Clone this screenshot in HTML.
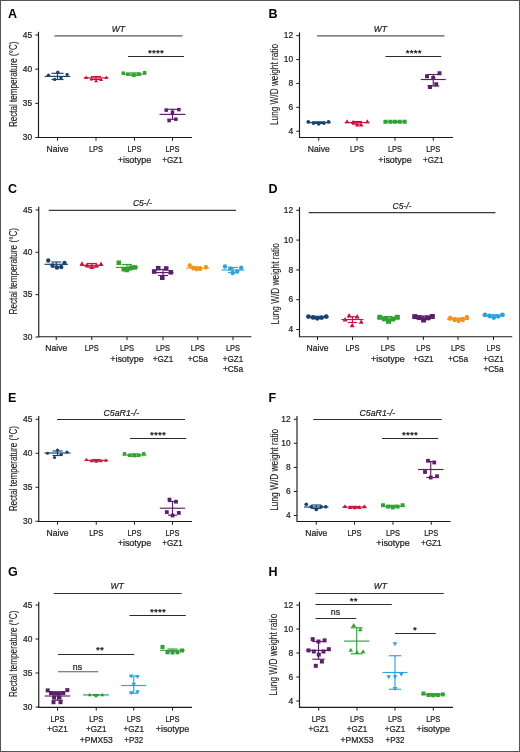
<!DOCTYPE html>
<html><head><meta charset="utf-8"><title>Figure</title>
<style>
html,body{margin:0;padding:0;background:#fff;}
body{width:520px;height:752px;overflow:hidden;}
svg{display:block;font-family:"Liberation Sans", sans-serif;will-change:transform;}
</style></head><body>
<svg width="520" height="752" viewBox="0 0 520 752">
<rect width="520" height="752" fill="#fff"/>
<rect x="0.5" y="0.5" width="519" height="751" fill="none" stroke="#555" stroke-width="1"/>
<text x="8" y="17.8" font-size="12.5" text-anchor="start" fill="#000" font-weight="bold">A</text>
<line x1="38.5" y1="31.804999999999996" x2="38.5" y2="138.0" stroke="#1a1a1a" stroke-width="1.15"/>
<line x1="35.3" y1="35.004999999999995" x2="38.5" y2="35.004999999999995" stroke="#1a1a1a" stroke-width="1.0"/>
<text x="32.2" y="37.705" font-size="8.4" text-anchor="end" fill="#222" stroke="#222" stroke-width="0.22" >45</text>
<line x1="35.3" y1="69.17" x2="38.5" y2="69.17" stroke="#1a1a1a" stroke-width="1.0"/>
<text x="32.2" y="71.87" font-size="8.4" text-anchor="end" fill="#222" stroke="#222" stroke-width="0.22" >40</text>
<line x1="35.3" y1="103.33500000000001" x2="38.5" y2="103.33500000000001" stroke="#1a1a1a" stroke-width="1.0"/>
<text x="32.2" y="106.03500000000001" font-size="8.4" text-anchor="end" fill="#222" stroke="#222" stroke-width="0.22" >35</text>
<line x1="35.3" y1="137.5" x2="38.5" y2="137.5" stroke="#1a1a1a" stroke-width="1.0"/>
<text x="32.2" y="140.2" font-size="8.4" text-anchor="end" fill="#222" stroke="#222" stroke-width="0.22" >30</text>
<text x="0" y="0" font-size="10.2" text-anchor="middle" fill="#222" stroke="#222" stroke-width="0.12" transform="translate(16.6,84.3) rotate(-90)" textLength="85.5" lengthAdjust="spacingAndGlyphs">Rectal temperature (°C)</text>
<line x1="38.5" y1="137.5" x2="192" y2="137.5" stroke="#1a1a1a" stroke-width="1.1"/>
<line x1="57.5" y1="137.5" x2="57.5" y2="140.7" stroke="#1a1a1a" stroke-width="1.0"/>
<text x="57.5" y="152.0" font-size="8.6" text-anchor="middle" fill="#222" stroke="#222" stroke-width="0.22" textLength="22" lengthAdjust="spacingAndGlyphs">Naive</text>
<line x1="96" y1="137.5" x2="96" y2="140.7" stroke="#1a1a1a" stroke-width="1.0"/>
<text x="96" y="152.0" font-size="8.6" text-anchor="middle" fill="#222" stroke="#222" stroke-width="0.22" textLength="14.1" lengthAdjust="spacingAndGlyphs">LPS</text>
<line x1="134.5" y1="137.5" x2="134.5" y2="140.7" stroke="#1a1a1a" stroke-width="1.0"/>
<text x="134.5" y="152.0" font-size="8.6" text-anchor="middle" fill="#222" stroke="#222" stroke-width="0.22" textLength="14.1" lengthAdjust="spacingAndGlyphs">LPS</text>
<text x="134.5" y="162.5" font-size="8.6" text-anchor="middle" fill="#222" stroke="#222" stroke-width="0.22" textLength="33.7" lengthAdjust="spacingAndGlyphs">+isotype</text>
<line x1="172.5" y1="137.5" x2="172.5" y2="140.7" stroke="#1a1a1a" stroke-width="1.0"/>
<text x="172.5" y="152.0" font-size="8.6" text-anchor="middle" fill="#222" stroke="#222" stroke-width="0.22" textLength="14.1" lengthAdjust="spacingAndGlyphs">LPS</text>
<text x="172.5" y="162.5" font-size="8.6" text-anchor="middle" fill="#222" stroke="#222" stroke-width="0.22" textLength="20.3" lengthAdjust="spacingAndGlyphs">+GZ1</text>
<line x1="54.4" y1="35.8" x2="182.5" y2="35.8" stroke="#5a5a5a" stroke-width="1.3"/>
<text x="118.3" y="31.6" font-size="8.5" text-anchor="middle" fill="#222" stroke="#222" stroke-width="0.22" font-style="italic">WT</text>
<line x1="128" y1="56.5" x2="184" y2="56.5" stroke="#2a2a2a" stroke-width="1.0"/>
<text x="149.80" y="56.00" font-size="9.8" text-anchor="middle" fill="#111" stroke="#111" stroke-width="0.25">*</text>
<text x="153.80" y="56.00" font-size="9.8" text-anchor="middle" fill="#111" stroke="#111" stroke-width="0.25">*</text>
<text x="157.80" y="56.00" font-size="9.8" text-anchor="middle" fill="#111" stroke="#111" stroke-width="0.25">*</text>
<text x="161.80" y="56.00" font-size="9.8" text-anchor="middle" fill="#111" stroke="#111" stroke-width="0.25">*</text>
<line x1="44.7" y1="76.4" x2="70.3" y2="76.4" stroke="#17436f" stroke-width="1.15"/>
<line x1="57.5" y1="73.3" x2="57.5" y2="79.5" stroke="#17436f" stroke-width="1.15"/>
<line x1="51.5" y1="73.3" x2="63.5" y2="73.3" stroke="#17436f" stroke-width="1.15"/>
<line x1="51.5" y1="79.5" x2="63.5" y2="79.5" stroke="#17436f" stroke-width="1.15"/>
<circle cx="48.5" cy="75.2" r="1.66" fill="#17436f"/>
<circle cx="57.8" cy="72.2" r="1.66" fill="#17436f"/>
<circle cx="67.1" cy="74.5" r="1.66" fill="#17436f"/>
<circle cx="54.7" cy="79.4" r="1.66" fill="#17436f"/>
<circle cx="61" cy="77.8" r="1.66" fill="#17436f"/>
<line x1="83.6" y1="77.9" x2="108.4" y2="77.9" stroke="#c8143c" stroke-width="1.15"/>
<line x1="96" y1="76.6" x2="96" y2="79.4" stroke="#c8143c" stroke-width="1.15"/>
<line x1="91" y1="76.6" x2="101" y2="76.6" stroke="#c8143c" stroke-width="1.15"/>
<line x1="91" y1="79.4" x2="101" y2="79.4" stroke="#c8143c" stroke-width="1.15"/>
<path d="M86.20 75.48L88.21 78.98L84.19 78.98Z" fill="#c8143c"/>
<path d="M91.40 77.08L93.41 80.58L89.39 80.58Z" fill="#c8143c"/>
<path d="M96.10 78.67L98.11 82.17L94.09 82.17Z" fill="#c8143c"/>
<path d="M101.00 77.38L103.01 80.88L98.99 80.88Z" fill="#c8143c"/>
<path d="M106.30 75.58L108.31 79.08L104.29 79.08Z" fill="#c8143c"/>
<line x1="122.5" y1="74.1" x2="146.5" y2="74.1" stroke="#32a034" stroke-width="1.15"/>
<line x1="134.5" y1="72.9" x2="134.5" y2="75.3" stroke="#32a034" stroke-width="1.15"/>
<line x1="129.5" y1="72.9" x2="139.5" y2="72.9" stroke="#32a034" stroke-width="1.15"/>
<line x1="129.5" y1="75.3" x2="139.5" y2="75.3" stroke="#32a034" stroke-width="1.15"/>
<rect x="121.55" y="71.45" width="3.5" height="3.5" fill="#32a034"/>
<rect x="126.05" y="72.35" width="3.5" height="3.5" fill="#32a034"/>
<rect x="132.05" y="73.65" width="3.5" height="3.5" fill="#32a034"/>
<rect x="137.45" y="72.35" width="3.5" height="3.5" fill="#32a034"/>
<rect x="142.85" y="70.95" width="3.5" height="3.5" fill="#32a034"/>
<line x1="159.5" y1="114.4" x2="185.5" y2="114.4" stroke="#5b2069" stroke-width="1.15"/>
<line x1="172.5" y1="109.3" x2="172.5" y2="119.3" stroke="#5b2069" stroke-width="1.15"/>
<line x1="167.5" y1="109.3" x2="177.5" y2="109.3" stroke="#5b2069" stroke-width="1.15"/>
<line x1="167.5" y1="119.3" x2="177.5" y2="119.3" stroke="#5b2069" stroke-width="1.15"/>
<rect x="164.45" y="108.35" width="3.5" height="3.5" fill="#5b2069"/>
<rect x="177.15" y="107.85" width="3.5" height="3.5" fill="#5b2069"/>
<rect x="170.75" y="110.55" width="3.5" height="3.5" fill="#5b2069"/>
<rect x="167.35" y="118.85" width="3.5" height="3.5" fill="#5b2069"/>
<rect x="174.05" y="117.45" width="3.5" height="3.5" fill="#5b2069"/>
<text x="268.6" y="17.8" font-size="12.5" text-anchor="start" fill="#000" font-weight="bold">B</text>
<line x1="299.5" y1="32.45" x2="299.5" y2="138.0" stroke="#1a1a1a" stroke-width="1.15"/>
<line x1="296.3" y1="35.650000000000006" x2="299.5" y2="35.650000000000006" stroke="#1a1a1a" stroke-width="1.0"/>
<text x="293.2" y="38.35000000000001" font-size="8.4" text-anchor="end" fill="#222" stroke="#222" stroke-width="0.22" >12</text>
<line x1="296.3" y1="59.55000000000001" x2="299.5" y2="59.55000000000001" stroke="#1a1a1a" stroke-width="1.0"/>
<text x="293.2" y="62.250000000000014" font-size="8.4" text-anchor="end" fill="#222" stroke="#222" stroke-width="0.22" >10</text>
<line x1="296.3" y1="83.45" x2="299.5" y2="83.45" stroke="#1a1a1a" stroke-width="1.0"/>
<text x="293.2" y="86.15" font-size="8.4" text-anchor="end" fill="#222" stroke="#222" stroke-width="0.22" >8</text>
<line x1="296.3" y1="107.35" x2="299.5" y2="107.35" stroke="#1a1a1a" stroke-width="1.0"/>
<text x="293.2" y="110.05" font-size="8.4" text-anchor="end" fill="#222" stroke="#222" stroke-width="0.22" >6</text>
<line x1="296.3" y1="131.25" x2="299.5" y2="131.25" stroke="#1a1a1a" stroke-width="1.0"/>
<text x="293.2" y="133.95" font-size="8.4" text-anchor="end" fill="#222" stroke="#222" stroke-width="0.22" >4</text>
<text x="0" y="0" font-size="10.2" text-anchor="middle" fill="#222" stroke="#222" stroke-width="0.12" transform="translate(277.5,84.5) rotate(-90)" textLength="81" lengthAdjust="spacingAndGlyphs">Lung W/D weight ratio</text>
<line x1="299.5" y1="137.5" x2="453" y2="137.5" stroke="#1a1a1a" stroke-width="1.1"/>
<line x1="318.75" y1="137.5" x2="318.75" y2="140.7" stroke="#1a1a1a" stroke-width="1.0"/>
<text x="318.75" y="152.0" font-size="8.6" text-anchor="middle" fill="#222" stroke="#222" stroke-width="0.22" textLength="22" lengthAdjust="spacingAndGlyphs">Naive</text>
<line x1="357" y1="137.5" x2="357" y2="140.7" stroke="#1a1a1a" stroke-width="1.0"/>
<text x="357" y="152.0" font-size="8.6" text-anchor="middle" fill="#222" stroke="#222" stroke-width="0.22" textLength="14.1" lengthAdjust="spacingAndGlyphs">LPS</text>
<line x1="395" y1="137.5" x2="395" y2="140.7" stroke="#1a1a1a" stroke-width="1.0"/>
<text x="395" y="152.0" font-size="8.6" text-anchor="middle" fill="#222" stroke="#222" stroke-width="0.22" textLength="14.1" lengthAdjust="spacingAndGlyphs">LPS</text>
<text x="395" y="162.5" font-size="8.6" text-anchor="middle" fill="#222" stroke="#222" stroke-width="0.22" textLength="33.7" lengthAdjust="spacingAndGlyphs">+isotype</text>
<line x1="433.25" y1="137.5" x2="433.25" y2="140.7" stroke="#1a1a1a" stroke-width="1.0"/>
<text x="433.25" y="152.0" font-size="8.6" text-anchor="middle" fill="#222" stroke="#222" stroke-width="0.22" textLength="14.1" lengthAdjust="spacingAndGlyphs">LPS</text>
<text x="433.25" y="162.5" font-size="8.6" text-anchor="middle" fill="#222" stroke="#222" stroke-width="0.22" textLength="20.3" lengthAdjust="spacingAndGlyphs">+GZ1</text>
<line x1="317" y1="35.8" x2="444.5" y2="35.8" stroke="#5a5a5a" stroke-width="1.3"/>
<text x="380.4" y="31.6" font-size="8.5" text-anchor="middle" fill="#222" stroke="#222" stroke-width="0.22" font-style="italic">WT</text>
<line x1="385.5" y1="56.5" x2="441.25" y2="56.5" stroke="#2a2a2a" stroke-width="1.0"/>
<text x="407.70" y="56.00" font-size="9.8" text-anchor="middle" fill="#111" stroke="#111" stroke-width="0.25">*</text>
<text x="411.70" y="56.00" font-size="9.8" text-anchor="middle" fill="#111" stroke="#111" stroke-width="0.25">*</text>
<text x="415.70" y="56.00" font-size="9.8" text-anchor="middle" fill="#111" stroke="#111" stroke-width="0.25">*</text>
<text x="419.70" y="56.00" font-size="9.8" text-anchor="middle" fill="#111" stroke="#111" stroke-width="0.25">*</text>
<line x1="306.75" y1="122.6" x2="330.75" y2="122.6" stroke="#17436f" stroke-width="1.15"/>
<line x1="318.75" y1="121.8" x2="318.75" y2="123.4" stroke="#17436f" stroke-width="1.15"/>
<line x1="314.75" y1="121.8" x2="322.75" y2="121.8" stroke="#17436f" stroke-width="1.15"/>
<line x1="314.75" y1="123.4" x2="322.75" y2="123.4" stroke="#17436f" stroke-width="1.15"/>
<circle cx="308.3" cy="121.8" r="1.90" fill="#17436f"/>
<circle cx="313.5" cy="123.0" r="1.90" fill="#17436f"/>
<circle cx="318.7" cy="123.8" r="1.90" fill="#17436f"/>
<circle cx="323.9" cy="123.0" r="1.90" fill="#17436f"/>
<circle cx="328.5" cy="121.8" r="1.90" fill="#17436f"/>
<line x1="344.6" y1="122.6" x2="369.4" y2="122.6" stroke="#c8143c" stroke-width="1.15"/>
<line x1="357" y1="121.5" x2="357" y2="124.2" stroke="#c8143c" stroke-width="1.15"/>
<line x1="352" y1="121.5" x2="362" y2="121.5" stroke="#c8143c" stroke-width="1.15"/>
<line x1="352" y1="124.2" x2="362" y2="124.2" stroke="#c8143c" stroke-width="1.15"/>
<path d="M347.10 119.20L349.40 123.20L344.80 123.20Z" fill="#c8143c"/>
<path d="M353.10 119.90L355.40 123.90L350.80 123.90Z" fill="#c8143c"/>
<path d="M357.20 122.60L359.50 126.60L354.90 126.60Z" fill="#c8143c"/>
<path d="M361.20 122.60L363.50 126.60L358.90 126.60Z" fill="#c8143c"/>
<path d="M367.30 119.20L369.60 123.20L365.00 123.20Z" fill="#c8143c"/>
<line x1="383.5" y1="121.75" x2="406.5" y2="121.75" stroke="#32a034" stroke-width="1.15"/>
<line x1="395" y1="121.3" x2="395" y2="122.2" stroke="#32a034" stroke-width="1.15"/>
<line x1="391" y1="121.3" x2="399" y2="121.3" stroke="#32a034" stroke-width="1.15"/>
<line x1="391" y1="122.2" x2="399" y2="122.2" stroke="#32a034" stroke-width="1.15"/>
<rect x="383.50" y="119.75" width="4.0" height="4.0" fill="#32a034"/>
<rect x="388.30" y="119.75" width="4.0" height="4.0" fill="#32a034"/>
<rect x="393.00" y="119.75" width="4.0" height="4.0" fill="#32a034"/>
<rect x="397.80" y="119.75" width="4.0" height="4.0" fill="#32a034"/>
<rect x="402.60" y="119.75" width="4.0" height="4.0" fill="#32a034"/>
<line x1="420.75" y1="79.5" x2="445.75" y2="79.5" stroke="#5b2069" stroke-width="1.15"/>
<line x1="433.25" y1="74.5" x2="433.25" y2="86" stroke="#5b2069" stroke-width="1.15"/>
<line x1="427.25" y1="74.5" x2="439.25" y2="74.5" stroke="#5b2069" stroke-width="1.15"/>
<line x1="427.25" y1="86" x2="439.25" y2="86" stroke="#5b2069" stroke-width="1.15"/>
<rect x="425.00" y="74.25" width="4.0" height="4.0" fill="#5b2069"/>
<rect x="437.50" y="71.25" width="4.0" height="4.0" fill="#5b2069"/>
<rect x="431.25" y="76.00" width="4.0" height="4.0" fill="#5b2069"/>
<rect x="428.00" y="85.00" width="4.0" height="4.0" fill="#5b2069"/>
<rect x="434.25" y="82.25" width="4.0" height="4.0" fill="#5b2069"/>
<text x="8" y="192.6" font-size="12.5" text-anchor="start" fill="#000" font-weight="bold">C</text>
<line x1="38.75" y1="206.75" x2="38.75" y2="337.3" stroke="#1a1a1a" stroke-width="1.15"/>
<line x1="35.55" y1="209.95" x2="38.75" y2="209.95" stroke="#1a1a1a" stroke-width="1.0"/>
<text x="32.45" y="212.64999999999998" font-size="8.4" text-anchor="end" fill="#222" stroke="#222" stroke-width="0.22" >45</text>
<line x1="35.55" y1="252.3" x2="38.75" y2="252.3" stroke="#1a1a1a" stroke-width="1.0"/>
<text x="32.45" y="255.0" font-size="8.4" text-anchor="end" fill="#222" stroke="#222" stroke-width="0.22" >40</text>
<line x1="35.55" y1="294.65" x2="38.75" y2="294.65" stroke="#1a1a1a" stroke-width="1.0"/>
<text x="32.45" y="297.34999999999997" font-size="8.4" text-anchor="end" fill="#222" stroke="#222" stroke-width="0.22" >35</text>
<line x1="35.55" y1="337.0" x2="38.75" y2="337.0" stroke="#1a1a1a" stroke-width="1.0"/>
<text x="32.45" y="339.7" font-size="8.4" text-anchor="end" fill="#222" stroke="#222" stroke-width="0.22" >30</text>
<text x="0" y="0" font-size="10.2" text-anchor="middle" fill="#222" stroke="#222" stroke-width="0.12" transform="translate(16.6,271.2) rotate(-90)" textLength="86.5" lengthAdjust="spacingAndGlyphs">Rectal temperature (°C)</text>
<line x1="38.75" y1="336.8" x2="251.4" y2="336.8" stroke="#1a1a1a" stroke-width="1.1"/>
<line x1="56.25" y1="336.8" x2="56.25" y2="340.0" stroke="#1a1a1a" stroke-width="1.0"/>
<text x="56.25" y="351.40000000000003" font-size="8.6" text-anchor="middle" fill="#222" stroke="#222" stroke-width="0.22" textLength="22" lengthAdjust="spacingAndGlyphs">Naive</text>
<line x1="91.75" y1="336.8" x2="91.75" y2="340.0" stroke="#1a1a1a" stroke-width="1.0"/>
<text x="91.75" y="351.40000000000003" font-size="8.6" text-anchor="middle" fill="#222" stroke="#222" stroke-width="0.22" textLength="14.1" lengthAdjust="spacingAndGlyphs">LPS</text>
<line x1="127" y1="336.8" x2="127" y2="340.0" stroke="#1a1a1a" stroke-width="1.0"/>
<text x="127" y="351.40000000000003" font-size="8.6" text-anchor="middle" fill="#222" stroke="#222" stroke-width="0.22" textLength="14.1" lengthAdjust="spacingAndGlyphs">LPS</text>
<text x="127" y="361.90000000000003" font-size="8.6" text-anchor="middle" fill="#222" stroke="#222" stroke-width="0.22" textLength="33.7" lengthAdjust="spacingAndGlyphs">+isotype</text>
<line x1="163" y1="336.8" x2="163" y2="340.0" stroke="#1a1a1a" stroke-width="1.0"/>
<text x="163" y="351.40000000000003" font-size="8.6" text-anchor="middle" fill="#222" stroke="#222" stroke-width="0.22" textLength="14.1" lengthAdjust="spacingAndGlyphs">LPS</text>
<text x="163" y="361.90000000000003" font-size="8.6" text-anchor="middle" fill="#222" stroke="#222" stroke-width="0.22" textLength="20.3" lengthAdjust="spacingAndGlyphs">+GZ1</text>
<line x1="197.8" y1="336.8" x2="197.8" y2="340.0" stroke="#1a1a1a" stroke-width="1.0"/>
<text x="197.8" y="351.40000000000003" font-size="8.6" text-anchor="middle" fill="#222" stroke="#222" stroke-width="0.22" textLength="14.1" lengthAdjust="spacingAndGlyphs">LPS</text>
<text x="197.8" y="361.90000000000003" font-size="8.6" text-anchor="middle" fill="#222" stroke="#222" stroke-width="0.22" textLength="20.2" lengthAdjust="spacingAndGlyphs">+C5a</text>
<line x1="233" y1="336.8" x2="233" y2="340.0" stroke="#1a1a1a" stroke-width="1.0"/>
<text x="233" y="351.40000000000003" font-size="8.6" text-anchor="middle" fill="#222" stroke="#222" stroke-width="0.22" textLength="14.1" lengthAdjust="spacingAndGlyphs">LPS</text>
<text x="233" y="361.90000000000003" font-size="8.6" text-anchor="middle" fill="#222" stroke="#222" stroke-width="0.22" textLength="20.3" lengthAdjust="spacingAndGlyphs">+GZ1</text>
<text x="233" y="372.40000000000003" font-size="8.6" text-anchor="middle" fill="#222" stroke="#222" stroke-width="0.22" textLength="20.2" lengthAdjust="spacingAndGlyphs">+C5a</text>
<line x1="48.75" y1="210.4" x2="236" y2="210.4" stroke="#3a3a3a" stroke-width="1.2"/>
<text x="142.4" y="206" font-size="8.5" text-anchor="middle" fill="#222" stroke="#222" stroke-width="0.22" font-style="italic">C5-/-</text>
<line x1="44.45" y1="264.3" x2="68.05" y2="264.3" stroke="#17436f" stroke-width="1.15"/>
<line x1="56.25" y1="262" x2="56.25" y2="267" stroke="#17436f" stroke-width="1.15"/>
<line x1="51.25" y1="262" x2="61.25" y2="262" stroke="#17436f" stroke-width="1.15"/>
<line x1="51.25" y1="267" x2="61.25" y2="267" stroke="#17436f" stroke-width="1.15"/>
<circle cx="48.25" cy="260.5" r="2.18" fill="#17436f"/>
<circle cx="52.5" cy="265.5" r="2.18" fill="#17436f"/>
<circle cx="57" cy="267.5" r="2.18" fill="#17436f"/>
<circle cx="61.25" cy="267" r="2.18" fill="#17436f"/>
<circle cx="64.5" cy="263" r="2.18" fill="#17436f"/>
<line x1="80.75" y1="265.3" x2="102.75" y2="265.3" stroke="#c8143c" stroke-width="1.15"/>
<line x1="91.75" y1="263.5" x2="91.75" y2="267" stroke="#c8143c" stroke-width="1.15"/>
<line x1="86.75" y1="263.5" x2="96.75" y2="263.5" stroke="#c8143c" stroke-width="1.15"/>
<line x1="86.75" y1="267" x2="96.75" y2="267" stroke="#c8143c" stroke-width="1.15"/>
<path d="M82.00 261.27L84.64 265.87L79.36 265.87Z" fill="#c8143c"/>
<path d="M87.00 262.77L89.64 267.37L84.36 267.37Z" fill="#c8143c"/>
<path d="M91.80 264.47L94.44 269.07L89.16 269.07Z" fill="#c8143c"/>
<path d="M96.50 262.97L99.14 267.57L93.86 267.57Z" fill="#c8143c"/>
<path d="M101.00 261.47L103.64 266.07L98.36 266.07Z" fill="#c8143c"/>
<line x1="115.8" y1="267.4" x2="138.2" y2="267.4" stroke="#32a034" stroke-width="1.15"/>
<line x1="127" y1="264.5" x2="127" y2="270" stroke="#32a034" stroke-width="1.15"/>
<line x1="122" y1="264.5" x2="132" y2="264.5" stroke="#32a034" stroke-width="1.15"/>
<line x1="122" y1="270" x2="132" y2="270" stroke="#32a034" stroke-width="1.15"/>
<rect x="116.50" y="260.50" width="4.6" height="4.6" fill="#32a034"/>
<rect x="121.50" y="266.90" width="4.6" height="4.6" fill="#32a034"/>
<rect x="124.60" y="267.70" width="4.6" height="4.6" fill="#32a034"/>
<rect x="128.50" y="265.40" width="4.6" height="4.6" fill="#32a034"/>
<rect x="132.70" y="265.10" width="4.6" height="4.6" fill="#32a034"/>
<line x1="152.5" y1="272.6" x2="173.5" y2="272.6" stroke="#5b2069" stroke-width="1.15"/>
<line x1="163" y1="269.5" x2="163" y2="275.5" stroke="#5b2069" stroke-width="1.15"/>
<line x1="158" y1="269.5" x2="168" y2="269.5" stroke="#5b2069" stroke-width="1.15"/>
<line x1="158" y1="275.5" x2="168" y2="275.5" stroke="#5b2069" stroke-width="1.15"/>
<rect x="151.90" y="269.20" width="4.6" height="4.6" fill="#5b2069"/>
<rect x="155.90" y="265.90" width="4.6" height="4.6" fill="#5b2069"/>
<rect x="163.90" y="266.20" width="4.6" height="4.6" fill="#5b2069"/>
<rect x="168.50" y="270.00" width="4.6" height="4.6" fill="#5b2069"/>
<rect x="160.00" y="275.40" width="4.6" height="4.6" fill="#5b2069"/>
<line x1="186.3" y1="268.1" x2="209.3" y2="268.1" stroke="#f3931f" stroke-width="1.15"/>
<line x1="197.8" y1="266.8" x2="197.8" y2="269.4" stroke="#f3931f" stroke-width="1.15"/>
<line x1="193.8" y1="266.8" x2="201.8" y2="266.8" stroke="#f3931f" stroke-width="1.15"/>
<line x1="193.8" y1="269.4" x2="201.8" y2="269.4" stroke="#f3931f" stroke-width="1.15"/>
<path d="M187.50 265.50L188.65 263.20L190.95 263.20L192.10 265.50L190.95 267.80L188.65 267.80Z" fill="#f3931f"/>
<path d="M190.90 268.10L192.05 265.80L194.35 265.80L195.50 268.10L194.35 270.40L192.05 270.40Z" fill="#f3931f"/>
<path d="M194.40 268.90L195.55 266.60L197.85 266.60L199.00 268.90L197.85 271.20L195.55 271.20Z" fill="#f3931f"/>
<path d="M197.90 268.70L199.05 266.40L201.35 266.40L202.50 268.70L201.35 271.00L199.05 271.00Z" fill="#f3931f"/>
<path d="M203.60 267.20L204.75 264.90L207.05 264.90L208.20 267.20L207.05 269.50L204.75 269.50Z" fill="#f3931f"/>
<line x1="221.5" y1="270" x2="244.5" y2="270" stroke="#2ba3db" stroke-width="1.15"/>
<line x1="233" y1="267.5" x2="233" y2="272.5" stroke="#2ba3db" stroke-width="1.15"/>
<line x1="228" y1="267.5" x2="238" y2="267.5" stroke="#2ba3db" stroke-width="1.15"/>
<line x1="228" y1="272.5" x2="238" y2="272.5" stroke="#2ba3db" stroke-width="1.15"/>
<circle cx="225" cy="266.5" r="2.18" fill="#2ba3db"/>
<circle cx="230.4" cy="268.5" r="2.18" fill="#2ba3db"/>
<circle cx="241.2" cy="267.7" r="2.18" fill="#2ba3db"/>
<circle cx="232.7" cy="273" r="2.18" fill="#2ba3db"/>
<circle cx="237.3" cy="271.5" r="2.18" fill="#2ba3db"/>
<text x="268.6" y="192.6" font-size="12.5" text-anchor="start" fill="#000" font-weight="bold">D</text>
<line x1="299.5" y1="207.10000000000002" x2="299.5" y2="337.25" stroke="#1a1a1a" stroke-width="1.15"/>
<line x1="296.3" y1="210.3" x2="299.5" y2="210.3" stroke="#1a1a1a" stroke-width="1.0"/>
<text x="293.2" y="213.0" font-size="8.4" text-anchor="end" fill="#222" stroke="#222" stroke-width="0.22" >12</text>
<line x1="296.3" y1="240.1" x2="299.5" y2="240.1" stroke="#1a1a1a" stroke-width="1.0"/>
<text x="293.2" y="242.79999999999998" font-size="8.4" text-anchor="end" fill="#222" stroke="#222" stroke-width="0.22" >10</text>
<line x1="296.3" y1="269.9" x2="299.5" y2="269.9" stroke="#1a1a1a" stroke-width="1.0"/>
<text x="293.2" y="272.59999999999997" font-size="8.4" text-anchor="end" fill="#222" stroke="#222" stroke-width="0.22" >8</text>
<line x1="296.3" y1="299.7" x2="299.5" y2="299.7" stroke="#1a1a1a" stroke-width="1.0"/>
<text x="293.2" y="302.4" font-size="8.4" text-anchor="end" fill="#222" stroke="#222" stroke-width="0.22" >6</text>
<line x1="296.3" y1="329.5" x2="299.5" y2="329.5" stroke="#1a1a1a" stroke-width="1.0"/>
<text x="293.2" y="332.2" font-size="8.4" text-anchor="end" fill="#222" stroke="#222" stroke-width="0.22" >4</text>
<text x="0" y="0" font-size="10.2" text-anchor="middle" fill="#222" stroke="#222" stroke-width="0.12" transform="translate(278.6,283.8) rotate(-90)" textLength="81.2" lengthAdjust="spacingAndGlyphs">Lung W/D weight ratio</text>
<line x1="299.5" y1="336.75" x2="512.2" y2="336.75" stroke="#1a1a1a" stroke-width="1.1"/>
<line x1="317.5" y1="336.75" x2="317.5" y2="339.95" stroke="#1a1a1a" stroke-width="1.0"/>
<text x="317.5" y="351.40000000000003" font-size="8.6" text-anchor="middle" fill="#222" stroke="#222" stroke-width="0.22" textLength="22" lengthAdjust="spacingAndGlyphs">Naive</text>
<line x1="352.5" y1="336.75" x2="352.5" y2="339.95" stroke="#1a1a1a" stroke-width="1.0"/>
<text x="352.5" y="351.40000000000003" font-size="8.6" text-anchor="middle" fill="#222" stroke="#222" stroke-width="0.22" textLength="14.1" lengthAdjust="spacingAndGlyphs">LPS</text>
<line x1="387.9" y1="336.75" x2="387.9" y2="339.95" stroke="#1a1a1a" stroke-width="1.0"/>
<text x="387.9" y="351.40000000000003" font-size="8.6" text-anchor="middle" fill="#222" stroke="#222" stroke-width="0.22" textLength="14.1" lengthAdjust="spacingAndGlyphs">LPS</text>
<text x="387.9" y="361.90000000000003" font-size="8.6" text-anchor="middle" fill="#222" stroke="#222" stroke-width="0.22" textLength="33.7" lengthAdjust="spacingAndGlyphs">+isotype</text>
<line x1="423.4" y1="336.75" x2="423.4" y2="339.95" stroke="#1a1a1a" stroke-width="1.0"/>
<text x="423.4" y="351.40000000000003" font-size="8.6" text-anchor="middle" fill="#222" stroke="#222" stroke-width="0.22" textLength="14.1" lengthAdjust="spacingAndGlyphs">LPS</text>
<text x="423.4" y="361.90000000000003" font-size="8.6" text-anchor="middle" fill="#222" stroke="#222" stroke-width="0.22" textLength="20.3" lengthAdjust="spacingAndGlyphs">+GZ1</text>
<line x1="458" y1="336.75" x2="458" y2="339.95" stroke="#1a1a1a" stroke-width="1.0"/>
<text x="458" y="351.40000000000003" font-size="8.6" text-anchor="middle" fill="#222" stroke="#222" stroke-width="0.22" textLength="14.1" lengthAdjust="spacingAndGlyphs">LPS</text>
<text x="458" y="361.90000000000003" font-size="8.6" text-anchor="middle" fill="#222" stroke="#222" stroke-width="0.22" textLength="20.2" lengthAdjust="spacingAndGlyphs">+C5a</text>
<line x1="493.5" y1="336.75" x2="493.5" y2="339.95" stroke="#1a1a1a" stroke-width="1.0"/>
<text x="493.5" y="351.40000000000003" font-size="8.6" text-anchor="middle" fill="#222" stroke="#222" stroke-width="0.22" textLength="14.1" lengthAdjust="spacingAndGlyphs">LPS</text>
<text x="493.5" y="361.90000000000003" font-size="8.6" text-anchor="middle" fill="#222" stroke="#222" stroke-width="0.22" textLength="20.3" lengthAdjust="spacingAndGlyphs">+GZ1</text>
<text x="493.5" y="372.40000000000003" font-size="8.6" text-anchor="middle" fill="#222" stroke="#222" stroke-width="0.22" textLength="20.2" lengthAdjust="spacingAndGlyphs">+C5a</text>
<line x1="308.75" y1="212.6" x2="495.5" y2="212.6" stroke="#3a3a3a" stroke-width="1.2"/>
<text x="402" y="208.6" font-size="8.5" text-anchor="middle" fill="#222" stroke="#222" stroke-width="0.22" font-style="italic">C5-/-</text>
<line x1="306.5" y1="317.4" x2="328.5" y2="317.4" stroke="#17436f" stroke-width="1.15"/>
<line x1="317.5" y1="316.3" x2="317.5" y2="318.6" stroke="#17436f" stroke-width="1.15"/>
<line x1="313.5" y1="316.3" x2="321.5" y2="316.3" stroke="#17436f" stroke-width="1.15"/>
<line x1="313.5" y1="318.6" x2="321.5" y2="318.6" stroke="#17436f" stroke-width="1.15"/>
<circle cx="308.5" cy="316.6" r="2.38" fill="#17436f"/>
<circle cx="313" cy="317.4" r="2.38" fill="#17436f"/>
<circle cx="317.3" cy="318.3" r="2.38" fill="#17436f"/>
<circle cx="321.7" cy="317.6" r="2.38" fill="#17436f"/>
<circle cx="326.2" cy="316.6" r="2.38" fill="#17436f"/>
<line x1="341.5" y1="319.5" x2="363.5" y2="319.5" stroke="#c8143c" stroke-width="1.15"/>
<line x1="352.5" y1="316.7" x2="352.5" y2="322.5" stroke="#c8143c" stroke-width="1.15"/>
<line x1="347.8" y1="316.7" x2="357.2" y2="316.7" stroke="#c8143c" stroke-width="1.15"/>
<line x1="347.8" y1="322.5" x2="357.2" y2="322.5" stroke="#c8143c" stroke-width="1.15"/>
<path d="M349.10 313.08L351.63 317.48L346.57 317.48Z" fill="#c8143c"/>
<path d="M357.20 313.98L359.73 318.38L354.67 318.38Z" fill="#c8143c"/>
<path d="M345.10 317.08L347.63 321.48L342.57 321.48Z" fill="#c8143c"/>
<path d="M361.20 319.38L363.73 323.78L358.67 323.78Z" fill="#c8143c"/>
<path d="M352.20 322.78L354.73 327.18L349.67 327.18Z" fill="#c8143c"/>
<line x1="376.9" y1="318" x2="398.9" y2="318" stroke="#32a034" stroke-width="1.15"/>
<line x1="387.9" y1="316.5" x2="387.9" y2="319.5" stroke="#32a034" stroke-width="1.15"/>
<line x1="383.9" y1="316.5" x2="391.9" y2="316.5" stroke="#32a034" stroke-width="1.15"/>
<line x1="383.9" y1="319.5" x2="391.9" y2="319.5" stroke="#32a034" stroke-width="1.15"/>
<rect x="377.30" y="314.80" width="5.0" height="5.0" fill="#32a034"/>
<rect x="382.00" y="316.30" width="5.0" height="5.0" fill="#32a034"/>
<rect x="386.00" y="318.80" width="5.0" height="5.0" fill="#32a034"/>
<rect x="390.30" y="316.50" width="5.0" height="5.0" fill="#32a034"/>
<rect x="394.80" y="314.80" width="5.0" height="5.0" fill="#32a034"/>
<line x1="412.4" y1="317.2" x2="434.4" y2="317.2" stroke="#5b2069" stroke-width="1.15"/>
<line x1="423.4" y1="316" x2="423.4" y2="318.6" stroke="#5b2069" stroke-width="1.15"/>
<line x1="419.4" y1="316" x2="427.4" y2="316" stroke="#5b2069" stroke-width="1.15"/>
<line x1="419.4" y1="318.6" x2="427.4" y2="318.6" stroke="#5b2069" stroke-width="1.15"/>
<rect x="412.30" y="314.10" width="5.0" height="5.0" fill="#5b2069"/>
<rect x="416.70" y="315.10" width="5.0" height="5.0" fill="#5b2069"/>
<rect x="421.10" y="317.50" width="5.0" height="5.0" fill="#5b2069"/>
<rect x="425.50" y="315.30" width="5.0" height="5.0" fill="#5b2069"/>
<rect x="429.80" y="314.00" width="5.0" height="5.0" fill="#5b2069"/>
<line x1="447" y1="319.2" x2="469" y2="319.2" stroke="#f3931f" stroke-width="1.15"/>
<line x1="458" y1="318" x2="458" y2="320.5" stroke="#f3931f" stroke-width="1.15"/>
<line x1="454" y1="318" x2="462" y2="318" stroke="#f3931f" stroke-width="1.15"/>
<line x1="454" y1="320.5" x2="462" y2="320.5" stroke="#f3931f" stroke-width="1.15"/>
<path d="M447.70 318.20L448.95 315.70L451.45 315.70L452.70 318.20L451.45 320.70L448.95 320.70Z" fill="#f3931f"/>
<path d="M452.00 319.40L453.25 316.90L455.75 316.90L457.00 319.40L455.75 321.90L453.25 321.90Z" fill="#f3931f"/>
<path d="M456.10 320.60L457.35 318.10L459.85 318.10L461.10 320.60L459.85 323.10L457.35 323.10Z" fill="#f3931f"/>
<path d="M460.30 319.40L461.55 316.90L464.05 316.90L465.30 319.40L464.05 321.90L461.55 321.90Z" fill="#f3931f"/>
<path d="M464.30 317.60L465.55 315.10L468.05 315.10L469.30 317.60L468.05 320.10L465.55 320.10Z" fill="#f3931f"/>
<line x1="482.5" y1="315.8" x2="504.5" y2="315.8" stroke="#2ba3db" stroke-width="1.15"/>
<line x1="493.5" y1="314.7" x2="493.5" y2="317" stroke="#2ba3db" stroke-width="1.15"/>
<line x1="489.5" y1="314.7" x2="497.5" y2="314.7" stroke="#2ba3db" stroke-width="1.15"/>
<line x1="489.5" y1="317" x2="497.5" y2="317" stroke="#2ba3db" stroke-width="1.15"/>
<circle cx="485" cy="314.8" r="2.38" fill="#2ba3db"/>
<circle cx="489.5" cy="316" r="2.38" fill="#2ba3db"/>
<circle cx="493.8" cy="317.6" r="2.38" fill="#2ba3db"/>
<circle cx="498.2" cy="316.3" r="2.38" fill="#2ba3db"/>
<circle cx="502.4" cy="314.8" r="2.38" fill="#2ba3db"/>
<text x="8" y="401.8" font-size="12.5" text-anchor="start" fill="#000" font-weight="bold">E</text>
<line x1="38.75" y1="416.05" x2="38.75" y2="522.0" stroke="#1a1a1a" stroke-width="1.15"/>
<line x1="35.55" y1="419.25" x2="38.75" y2="419.25" stroke="#1a1a1a" stroke-width="1.0"/>
<text x="32.45" y="421.95" font-size="8.4" text-anchor="end" fill="#222" stroke="#222" stroke-width="0.22" >45</text>
<line x1="35.55" y1="453.25" x2="38.75" y2="453.25" stroke="#1a1a1a" stroke-width="1.0"/>
<text x="32.45" y="455.95" font-size="8.4" text-anchor="end" fill="#222" stroke="#222" stroke-width="0.22" >40</text>
<line x1="35.55" y1="487.25" x2="38.75" y2="487.25" stroke="#1a1a1a" stroke-width="1.0"/>
<text x="32.45" y="489.95" font-size="8.4" text-anchor="end" fill="#222" stroke="#222" stroke-width="0.22" >35</text>
<line x1="35.55" y1="521.25" x2="38.75" y2="521.25" stroke="#1a1a1a" stroke-width="1.0"/>
<text x="32.45" y="523.95" font-size="8.4" text-anchor="end" fill="#222" stroke="#222" stroke-width="0.22" >30</text>
<text x="0" y="0" font-size="10.2" text-anchor="middle" fill="#222" stroke="#222" stroke-width="0.12" transform="translate(16.6,468.7) rotate(-90)" textLength="85.3" lengthAdjust="spacingAndGlyphs">Rectal temperature (°C)</text>
<line x1="38.75" y1="521.5" x2="192" y2="521.5" stroke="#1a1a1a" stroke-width="1.1"/>
<line x1="57.5" y1="521.5" x2="57.5" y2="524.7" stroke="#1a1a1a" stroke-width="1.0"/>
<text x="57.5" y="535.9" font-size="8.6" text-anchor="middle" fill="#222" stroke="#222" stroke-width="0.22" textLength="22" lengthAdjust="spacingAndGlyphs">Naive</text>
<line x1="96.25" y1="521.5" x2="96.25" y2="524.7" stroke="#1a1a1a" stroke-width="1.0"/>
<text x="96.25" y="535.9" font-size="8.6" text-anchor="middle" fill="#222" stroke="#222" stroke-width="0.22" textLength="14.1" lengthAdjust="spacingAndGlyphs">LPS</text>
<line x1="134.5" y1="521.5" x2="134.5" y2="524.7" stroke="#1a1a1a" stroke-width="1.0"/>
<text x="134.5" y="535.9" font-size="8.6" text-anchor="middle" fill="#222" stroke="#222" stroke-width="0.22" textLength="14.1" lengthAdjust="spacingAndGlyphs">LPS</text>
<text x="134.5" y="546.4" font-size="8.6" text-anchor="middle" fill="#222" stroke="#222" stroke-width="0.22" textLength="33.7" lengthAdjust="spacingAndGlyphs">+isotype</text>
<line x1="172.5" y1="521.5" x2="172.5" y2="524.7" stroke="#1a1a1a" stroke-width="1.0"/>
<text x="172.5" y="535.9" font-size="8.6" text-anchor="middle" fill="#222" stroke="#222" stroke-width="0.22" textLength="14.1" lengthAdjust="spacingAndGlyphs">LPS</text>
<text x="172.5" y="546.4" font-size="8.6" text-anchor="middle" fill="#222" stroke="#222" stroke-width="0.22" textLength="20.3" lengthAdjust="spacingAndGlyphs">+GZ1</text>
<line x1="57" y1="419.5" x2="185" y2="419.5" stroke="#2a2a2a" stroke-width="1.1"/>
<text x="121.3" y="415.5" font-size="8.8" text-anchor="middle" fill="#222" stroke="#222" stroke-width="0.22" font-style="italic">C5aR1-/-</text>
<line x1="130" y1="438.5" x2="186.25" y2="438.5" stroke="#2a2a2a" stroke-width="1.0"/>
<text x="152.00" y="438.15" font-size="9.8" text-anchor="middle" fill="#111" stroke="#111" stroke-width="0.25">*</text>
<text x="156.00" y="438.15" font-size="9.8" text-anchor="middle" fill="#111" stroke="#111" stroke-width="0.25">*</text>
<text x="160.00" y="438.15" font-size="9.8" text-anchor="middle" fill="#111" stroke="#111" stroke-width="0.25">*</text>
<text x="164.00" y="438.15" font-size="9.8" text-anchor="middle" fill="#111" stroke="#111" stroke-width="0.25">*</text>
<line x1="44.5" y1="453" x2="70.5" y2="453" stroke="#17436f" stroke-width="1.15"/>
<line x1="57.5" y1="451" x2="57.5" y2="455.5" stroke="#17436f" stroke-width="1.15"/>
<line x1="52.5" y1="451" x2="62.5" y2="451" stroke="#17436f" stroke-width="1.15"/>
<line x1="52.5" y1="455.5" x2="62.5" y2="455.5" stroke="#17436f" stroke-width="1.15"/>
<circle cx="47.5" cy="453.25" r="1.61" fill="#17436f"/>
<circle cx="57.5" cy="450" r="1.61" fill="#17436f"/>
<circle cx="67" cy="452" r="1.61" fill="#17436f"/>
<circle cx="54.5" cy="457.5" r="1.61" fill="#17436f"/>
<circle cx="61.25" cy="454.5" r="1.61" fill="#17436f"/>
<line x1="84.45" y1="460.3" x2="108.05" y2="460.3" stroke="#c8143c" stroke-width="1.15"/>
<line x1="96.25" y1="459.5" x2="96.25" y2="461.2" stroke="#c8143c" stroke-width="1.15"/>
<line x1="92.25" y1="459.5" x2="100.25" y2="459.5" stroke="#c8143c" stroke-width="1.15"/>
<line x1="92.25" y1="461.2" x2="100.25" y2="461.2" stroke="#c8143c" stroke-width="1.15"/>
<path d="M86.50 457.63L88.45 461.03L84.55 461.03Z" fill="#c8143c"/>
<path d="M91.50 458.93L93.45 462.33L89.55 462.33Z" fill="#c8143c"/>
<path d="M96.30 459.43L98.25 462.83L94.34 462.83Z" fill="#c8143c"/>
<path d="M101.00 458.93L102.95 462.33L99.05 462.33Z" fill="#c8143c"/>
<path d="M105.80 458.33L107.75 461.73L103.84 461.73Z" fill="#c8143c"/>
<line x1="122.5" y1="455" x2="146.5" y2="455" stroke="#32a034" stroke-width="1.15"/>
<line x1="134.5" y1="453.8" x2="134.5" y2="456.3" stroke="#32a034" stroke-width="1.15"/>
<line x1="130.5" y1="453.8" x2="138.5" y2="453.8" stroke="#32a034" stroke-width="1.15"/>
<line x1="130.5" y1="456.3" x2="138.5" y2="456.3" stroke="#32a034" stroke-width="1.15"/>
<rect x="122.80" y="452.10" width="3.4" height="3.4" fill="#32a034"/>
<rect x="127.80" y="453.60" width="3.4" height="3.4" fill="#32a034"/>
<rect x="132.60" y="453.90" width="3.4" height="3.4" fill="#32a034"/>
<rect x="137.30" y="453.50" width="3.4" height="3.4" fill="#32a034"/>
<rect x="142.00" y="452.10" width="3.4" height="3.4" fill="#32a034"/>
<line x1="159.8" y1="508.2" x2="185.2" y2="508.2" stroke="#5b2069" stroke-width="1.15"/>
<line x1="172.5" y1="501.5" x2="172.5" y2="515.2" stroke="#5b2069" stroke-width="1.15"/>
<line x1="168.0" y1="501.5" x2="177.0" y2="501.5" stroke="#5b2069" stroke-width="1.15"/>
<line x1="168.0" y1="515.2" x2="177.0" y2="515.2" stroke="#5b2069" stroke-width="1.15"/>
<rect x="167.60" y="497.70" width="3.8" height="3.8" fill="#5b2069"/>
<rect x="174.10" y="499.80" width="3.8" height="3.8" fill="#5b2069"/>
<rect x="164.90" y="510.20" width="3.8" height="3.8" fill="#5b2069"/>
<rect x="170.70" y="513.60" width="3.8" height="3.8" fill="#5b2069"/>
<rect x="176.90" y="511.00" width="3.8" height="3.8" fill="#5b2069"/>
<text x="268.6" y="401.8" font-size="12.5" text-anchor="start" fill="#000" font-weight="bold">F</text>
<line x1="297" y1="416.06" x2="297" y2="522.0" stroke="#1a1a1a" stroke-width="1.15"/>
<line x1="293.8" y1="419.26" x2="297" y2="419.26" stroke="#1a1a1a" stroke-width="1.0"/>
<text x="290.7" y="421.96" font-size="8.4" text-anchor="end" fill="#222" stroke="#222" stroke-width="0.22" >12</text>
<line x1="293.8" y1="443.32" x2="297" y2="443.32" stroke="#1a1a1a" stroke-width="1.0"/>
<text x="290.7" y="446.02" font-size="8.4" text-anchor="end" fill="#222" stroke="#222" stroke-width="0.22" >10</text>
<line x1="293.8" y1="467.38" x2="297" y2="467.38" stroke="#1a1a1a" stroke-width="1.0"/>
<text x="290.7" y="470.08" font-size="8.4" text-anchor="end" fill="#222" stroke="#222" stroke-width="0.22" >8</text>
<line x1="293.8" y1="491.44" x2="297" y2="491.44" stroke="#1a1a1a" stroke-width="1.0"/>
<text x="290.7" y="494.14" font-size="8.4" text-anchor="end" fill="#222" stroke="#222" stroke-width="0.22" >6</text>
<line x1="293.8" y1="515.5" x2="297" y2="515.5" stroke="#1a1a1a" stroke-width="1.0"/>
<text x="290.7" y="518.2" font-size="8.4" text-anchor="end" fill="#222" stroke="#222" stroke-width="0.22" >4</text>
<text x="0" y="0" font-size="10.2" text-anchor="middle" fill="#222" stroke="#222" stroke-width="0.12" transform="translate(277.5,469.8) rotate(-90)" textLength="82" lengthAdjust="spacingAndGlyphs">Lung W/D weight ratio</text>
<line x1="297" y1="521.5" x2="450.5" y2="521.5" stroke="#1a1a1a" stroke-width="1.1"/>
<line x1="316.25" y1="521.5" x2="316.25" y2="524.7" stroke="#1a1a1a" stroke-width="1.0"/>
<text x="316.25" y="535.9" font-size="8.6" text-anchor="middle" fill="#222" stroke="#222" stroke-width="0.22" textLength="22" lengthAdjust="spacingAndGlyphs">Naive</text>
<line x1="354.5" y1="521.5" x2="354.5" y2="524.7" stroke="#1a1a1a" stroke-width="1.0"/>
<text x="354.5" y="535.9" font-size="8.6" text-anchor="middle" fill="#222" stroke="#222" stroke-width="0.22" textLength="14.1" lengthAdjust="spacingAndGlyphs">LPS</text>
<line x1="393" y1="521.5" x2="393" y2="524.7" stroke="#1a1a1a" stroke-width="1.0"/>
<text x="393" y="535.9" font-size="8.6" text-anchor="middle" fill="#222" stroke="#222" stroke-width="0.22" textLength="14.1" lengthAdjust="spacingAndGlyphs">LPS</text>
<text x="393" y="546.4" font-size="8.6" text-anchor="middle" fill="#222" stroke="#222" stroke-width="0.22" textLength="33.7" lengthAdjust="spacingAndGlyphs">+isotype</text>
<line x1="431.25" y1="521.5" x2="431.25" y2="524.7" stroke="#1a1a1a" stroke-width="1.0"/>
<text x="431.25" y="535.9" font-size="8.6" text-anchor="middle" fill="#222" stroke="#222" stroke-width="0.22" textLength="14.1" lengthAdjust="spacingAndGlyphs">LPS</text>
<text x="431.25" y="546.4" font-size="8.6" text-anchor="middle" fill="#222" stroke="#222" stroke-width="0.22" textLength="20.3" lengthAdjust="spacingAndGlyphs">+GZ1</text>
<line x1="313.25" y1="419.5" x2="441.75" y2="419.5" stroke="#2a2a2a" stroke-width="1.1"/>
<text x="377.3" y="415.5" font-size="8.8" text-anchor="middle" fill="#222" stroke="#222" stroke-width="0.22" font-style="italic">C5aR1-/-</text>
<line x1="382" y1="438.5" x2="438.25" y2="438.5" stroke="#2a2a2a" stroke-width="1.0"/>
<text x="404.00" y="438.15" font-size="9.8" text-anchor="middle" fill="#111" stroke="#111" stroke-width="0.25">*</text>
<text x="408.00" y="438.15" font-size="9.8" text-anchor="middle" fill="#111" stroke="#111" stroke-width="0.25">*</text>
<text x="412.00" y="438.15" font-size="9.8" text-anchor="middle" fill="#111" stroke="#111" stroke-width="0.25">*</text>
<text x="416.00" y="438.15" font-size="9.8" text-anchor="middle" fill="#111" stroke="#111" stroke-width="0.25">*</text>
<line x1="304.05" y1="507" x2="328.45" y2="507" stroke="#17436f" stroke-width="1.15"/>
<line x1="316.25" y1="505" x2="316.25" y2="508.5" stroke="#17436f" stroke-width="1.15"/>
<line x1="311.25" y1="505" x2="321.25" y2="505" stroke="#17436f" stroke-width="1.15"/>
<line x1="311.25" y1="508.5" x2="321.25" y2="508.5" stroke="#17436f" stroke-width="1.15"/>
<circle cx="306.25" cy="504.25" r="1.85" fill="#17436f"/>
<circle cx="311.25" cy="506.75" r="1.85" fill="#17436f"/>
<circle cx="316.25" cy="509.5" r="1.85" fill="#17436f"/>
<circle cx="321.25" cy="506.75" r="1.85" fill="#17436f"/>
<circle cx="325.75" cy="506.75" r="1.85" fill="#17436f"/>
<line x1="342.3" y1="507" x2="366.7" y2="507" stroke="#c8143c" stroke-width="1.15"/>
<line x1="354.5" y1="506.4" x2="354.5" y2="507.8" stroke="#c8143c" stroke-width="1.15"/>
<line x1="350.5" y1="506.4" x2="358.5" y2="506.4" stroke="#c8143c" stroke-width="1.15"/>
<line x1="350.5" y1="507.8" x2="358.5" y2="507.8" stroke="#c8143c" stroke-width="1.15"/>
<path d="M345.00 504.16L347.24 508.06L342.76 508.06Z" fill="#c8143c"/>
<path d="M350.00 505.06L352.24 508.95L347.76 508.95Z" fill="#c8143c"/>
<path d="M354.70 505.46L356.94 509.36L352.46 509.36Z" fill="#c8143c"/>
<path d="M359.40 505.16L361.64 509.06L357.16 509.06Z" fill="#c8143c"/>
<path d="M364.30 504.36L366.54 508.25L362.06 508.25Z" fill="#c8143c"/>
<line x1="381" y1="506.3" x2="405" y2="506.3" stroke="#32a034" stroke-width="1.15"/>
<line x1="393" y1="505.3" x2="393" y2="507.2" stroke="#32a034" stroke-width="1.15"/>
<line x1="389" y1="505.3" x2="397" y2="505.3" stroke="#32a034" stroke-width="1.15"/>
<line x1="389" y1="507.2" x2="397" y2="507.2" stroke="#32a034" stroke-width="1.15"/>
<rect x="381.05" y="503.25" width="3.9" height="3.9" fill="#32a034"/>
<rect x="386.05" y="504.65" width="3.9" height="3.9" fill="#32a034"/>
<rect x="390.85" y="505.55" width="3.9" height="3.9" fill="#32a034"/>
<rect x="395.65" y="504.65" width="3.9" height="3.9" fill="#32a034"/>
<rect x="400.65" y="503.25" width="3.9" height="3.9" fill="#32a034"/>
<line x1="418.05" y1="469.5" x2="443.45" y2="469.5" stroke="#5b2069" stroke-width="1.15"/>
<line x1="430.75" y1="461.5" x2="430.75" y2="477.5" stroke="#5b2069" stroke-width="1.15"/>
<line x1="426.25" y1="461.5" x2="435.25" y2="461.5" stroke="#5b2069" stroke-width="1.15"/>
<line x1="426.25" y1="477.5" x2="435.25" y2="477.5" stroke="#5b2069" stroke-width="1.15"/>
<rect x="426.10" y="458.85" width="3.8" height="3.8" fill="#5b2069"/>
<rect x="432.35" y="460.60" width="3.8" height="3.8" fill="#5b2069"/>
<rect x="423.10" y="470.10" width="3.8" height="3.8" fill="#5b2069"/>
<rect x="428.85" y="475.60" width="3.8" height="3.8" fill="#5b2069"/>
<rect x="435.10" y="474.35" width="3.8" height="3.8" fill="#5b2069"/>
<text x="8" y="576.4" font-size="12.5" text-anchor="start" fill="#000" font-weight="bold">G</text>
<line x1="38.75" y1="601.8" x2="38.75" y2="707.9" stroke="#1a1a1a" stroke-width="1.15"/>
<line x1="35.55" y1="605.0" x2="38.75" y2="605.0" stroke="#1a1a1a" stroke-width="1.0"/>
<text x="32.45" y="607.7" font-size="8.4" text-anchor="end" fill="#222" stroke="#222" stroke-width="0.22" >45</text>
<line x1="35.55" y1="639.0" x2="38.75" y2="639.0" stroke="#1a1a1a" stroke-width="1.0"/>
<text x="32.45" y="641.7" font-size="8.4" text-anchor="end" fill="#222" stroke="#222" stroke-width="0.22" >40</text>
<line x1="35.55" y1="673.0" x2="38.75" y2="673.0" stroke="#1a1a1a" stroke-width="1.0"/>
<text x="32.45" y="675.7" font-size="8.4" text-anchor="end" fill="#222" stroke="#222" stroke-width="0.22" >35</text>
<line x1="35.55" y1="707.0" x2="38.75" y2="707.0" stroke="#1a1a1a" stroke-width="1.0"/>
<text x="32.45" y="709.7" font-size="8.4" text-anchor="end" fill="#222" stroke="#222" stroke-width="0.22" >30</text>
<text x="0" y="0" font-size="10.2" text-anchor="middle" fill="#222" stroke="#222" stroke-width="0.12" transform="translate(16.6,653.8) rotate(-90)" textLength="86.4" lengthAdjust="spacingAndGlyphs">Rectal temperature (°C)</text>
<line x1="38.75" y1="707.4" x2="192" y2="707.4" stroke="#1a1a1a" stroke-width="1.1"/>
<line x1="57.5" y1="707.4" x2="57.5" y2="710.6" stroke="#1a1a1a" stroke-width="1.0"/>
<text x="57.5" y="721.6" font-size="8.6" text-anchor="middle" fill="#222" stroke="#222" stroke-width="0.22" textLength="14.1" lengthAdjust="spacingAndGlyphs">LPS</text>
<text x="57.5" y="732.1" font-size="8.6" text-anchor="middle" fill="#222" stroke="#222" stroke-width="0.22" textLength="20.3" lengthAdjust="spacingAndGlyphs">+GZ1</text>
<line x1="96.25" y1="707.4" x2="96.25" y2="710.6" stroke="#1a1a1a" stroke-width="1.0"/>
<text x="96.25" y="721.6" font-size="8.6" text-anchor="middle" fill="#222" stroke="#222" stroke-width="0.22" textLength="14.1" lengthAdjust="spacingAndGlyphs">LPS</text>
<text x="96.25" y="732.1" font-size="8.6" text-anchor="middle" fill="#222" stroke="#222" stroke-width="0.22" textLength="20.3" lengthAdjust="spacingAndGlyphs">+GZ1</text>
<text x="96.25" y="742.6" font-size="8.6" text-anchor="middle" fill="#222" stroke="#222" stroke-width="0.22" textLength="33" lengthAdjust="spacingAndGlyphs">+PMX53</text>
<line x1="133.75" y1="707.4" x2="133.75" y2="710.6" stroke="#1a1a1a" stroke-width="1.0"/>
<text x="133.75" y="721.6" font-size="8.6" text-anchor="middle" fill="#222" stroke="#222" stroke-width="0.22" textLength="14.1" lengthAdjust="spacingAndGlyphs">LPS</text>
<text x="133.75" y="732.1" font-size="8.6" text-anchor="middle" fill="#222" stroke="#222" stroke-width="0.22" textLength="20.3" lengthAdjust="spacingAndGlyphs">+GZ1</text>
<text x="133.75" y="742.6" font-size="8.6" text-anchor="middle" fill="#222" stroke="#222" stroke-width="0.22" textLength="18.9" lengthAdjust="spacingAndGlyphs">+P32</text>
<line x1="172.5" y1="707.4" x2="172.5" y2="710.6" stroke="#1a1a1a" stroke-width="1.0"/>
<text x="172.5" y="721.6" font-size="8.6" text-anchor="middle" fill="#222" stroke="#222" stroke-width="0.22" textLength="14.1" lengthAdjust="spacingAndGlyphs">LPS</text>
<text x="172.5" y="732.1" font-size="8.6" text-anchor="middle" fill="#222" stroke="#222" stroke-width="0.22" textLength="33.7" lengthAdjust="spacingAndGlyphs">+isotype</text>
<line x1="53.75" y1="593.5" x2="181.75" y2="593.5" stroke="#333" stroke-width="1.2"/>
<text x="117.2" y="589.4" font-size="8.5" text-anchor="middle" fill="#222" stroke="#222" stroke-width="0.22" font-style="italic">WT</text>
<line x1="129.5" y1="615.5" x2="185.75" y2="615.5" stroke="#2a2a2a" stroke-width="1.0"/>
<text x="152.00" y="615.15" font-size="9.8" text-anchor="middle" fill="#111" stroke="#111" stroke-width="0.25">*</text>
<text x="156.00" y="615.15" font-size="9.8" text-anchor="middle" fill="#111" stroke="#111" stroke-width="0.25">*</text>
<text x="160.00" y="615.15" font-size="9.8" text-anchor="middle" fill="#111" stroke="#111" stroke-width="0.25">*</text>
<text x="164.00" y="615.15" font-size="9.8" text-anchor="middle" fill="#111" stroke="#111" stroke-width="0.25">*</text>
<line x1="58" y1="654.5" x2="134.25" y2="654.5" stroke="#2a2a2a" stroke-width="1.0"/>
<text x="98.00" y="652.65" font-size="9.8" text-anchor="middle" fill="#111" stroke="#111" stroke-width="0.25">*</text>
<text x="102.00" y="652.65" font-size="9.8" text-anchor="middle" fill="#111" stroke="#111" stroke-width="0.25">*</text>
<line x1="58" y1="671.75" x2="98.25" y2="671.75" stroke="#5a5a5a" stroke-width="1.2"/>
<text x="77.5" y="669.7" font-size="8.8" text-anchor="middle" fill="#222" stroke="#222" stroke-width="0.22" >ns</text>
<line x1="44.7" y1="696" x2="70.3" y2="696" stroke="#5b2069" stroke-width="1.15"/>
<line x1="57.5" y1="692" x2="57.5" y2="700.2" stroke="#5b2069" stroke-width="1.15"/>
<line x1="52.1" y1="692" x2="62.9" y2="692" stroke="#5b2069" stroke-width="1.15"/>
<line x1="52.1" y1="700.2" x2="62.9" y2="700.2" stroke="#5b2069" stroke-width="1.15"/>
<rect x="45.70" y="688.40" width="4.0" height="4.0" fill="#5b2069"/>
<rect x="65.30" y="688.10" width="4.0" height="4.0" fill="#5b2069"/>
<rect x="49.00" y="691.00" width="4.0" height="4.0" fill="#5b2069"/>
<rect x="53.00" y="691.30" width="4.0" height="4.0" fill="#5b2069"/>
<rect x="57.50" y="691.30" width="4.0" height="4.0" fill="#5b2069"/>
<rect x="61.30" y="691.00" width="4.0" height="4.0" fill="#5b2069"/>
<rect x="52.10" y="695.50" width="4.0" height="4.0" fill="#5b2069"/>
<rect x="57.50" y="695.50" width="4.0" height="4.0" fill="#5b2069"/>
<rect x="51.50" y="700.20" width="4.0" height="4.0" fill="#5b2069"/>
<rect x="58.50" y="700.20" width="4.0" height="4.0" fill="#5b2069"/>
<line x1="83.1" y1="694.9" x2="108.9" y2="694.9" stroke="#2a9a35" stroke-width="1.15"/>
<line x1="96" y1="694.5" x2="96" y2="695.3" stroke="#2a9a35" stroke-width="1.15"/>
<line x1="93" y1="694.5" x2="99" y2="694.5" stroke="#2a9a35" stroke-width="1.15"/>
<line x1="93" y1="695.3" x2="99" y2="695.3" stroke="#2a9a35" stroke-width="1.15"/>
<path d="M89.80 692.73L91.75 696.13L87.84 696.13Z" fill="#2a9a35"/>
<path d="M96.00 693.93L97.95 697.33L94.05 697.33Z" fill="#2a9a35"/>
<path d="M102.20 692.73L104.16 696.13L100.25 696.13Z" fill="#2a9a35"/>
<line x1="121.25" y1="685.5" x2="146.25" y2="685.5" stroke="#2ba3db" stroke-width="1.15"/>
<line x1="133.75" y1="676.2" x2="133.75" y2="693.2" stroke="#2ba3db" stroke-width="1.15"/>
<line x1="129.25" y1="676.2" x2="138.25" y2="676.2" stroke="#2ba3db" stroke-width="1.15"/>
<line x1="129.25" y1="693.2" x2="138.25" y2="693.2" stroke="#2ba3db" stroke-width="1.15"/>
<path d="M131.25 678.45L133.55 674.45L128.95 674.45Z" fill="#2ba3db"/>
<path d="M137.50 678.95L139.80 674.95L135.20 674.95Z" fill="#2ba3db"/>
<path d="M133.75 686.70L136.05 682.70L131.45 682.70Z" fill="#2ba3db"/>
<path d="M131.25 695.20L133.55 691.20L128.95 691.20Z" fill="#2ba3db"/>
<path d="M137.50 694.20L139.80 690.20L135.20 690.20Z" fill="#2ba3db"/>
<line x1="160.2" y1="650.3" x2="184.8" y2="650.3" stroke="#32a034" stroke-width="1.15"/>
<line x1="172.5" y1="649" x2="172.5" y2="651.5" stroke="#32a034" stroke-width="1.15"/>
<line x1="167.5" y1="649" x2="177.5" y2="649" stroke="#32a034" stroke-width="1.15"/>
<line x1="167.5" y1="651.5" x2="177.5" y2="651.5" stroke="#32a034" stroke-width="1.15"/>
<rect x="160.50" y="645.00" width="4.0" height="4.0" fill="#32a034"/>
<rect x="165.50" y="650.30" width="4.0" height="4.0" fill="#32a034"/>
<rect x="170.50" y="650.50" width="4.0" height="4.0" fill="#32a034"/>
<rect x="175.50" y="650.30" width="4.0" height="4.0" fill="#32a034"/>
<rect x="180.00" y="648.50" width="4.0" height="4.0" fill="#32a034"/>
<text x="268.6" y="576.2" font-size="12.5" text-anchor="start" fill="#000" font-weight="bold">H</text>
<line x1="299.5" y1="601.8" x2="299.5" y2="707.9" stroke="#1a1a1a" stroke-width="1.15"/>
<line x1="296.3" y1="605.0" x2="299.5" y2="605.0" stroke="#1a1a1a" stroke-width="1.0"/>
<text x="293.2" y="607.7" font-size="8.4" text-anchor="end" fill="#222" stroke="#222" stroke-width="0.22" >12</text>
<line x1="296.3" y1="629.0" x2="299.5" y2="629.0" stroke="#1a1a1a" stroke-width="1.0"/>
<text x="293.2" y="631.7" font-size="8.4" text-anchor="end" fill="#222" stroke="#222" stroke-width="0.22" >10</text>
<line x1="296.3" y1="653.0" x2="299.5" y2="653.0" stroke="#1a1a1a" stroke-width="1.0"/>
<text x="293.2" y="655.7" font-size="8.4" text-anchor="end" fill="#222" stroke="#222" stroke-width="0.22" >8</text>
<line x1="296.3" y1="677.0" x2="299.5" y2="677.0" stroke="#1a1a1a" stroke-width="1.0"/>
<text x="293.2" y="679.7" font-size="8.4" text-anchor="end" fill="#222" stroke="#222" stroke-width="0.22" >6</text>
<line x1="296.3" y1="701.0" x2="299.5" y2="701.0" stroke="#1a1a1a" stroke-width="1.0"/>
<text x="293.2" y="703.7" font-size="8.4" text-anchor="end" fill="#222" stroke="#222" stroke-width="0.22" >4</text>
<text x="0" y="0" font-size="10.2" text-anchor="middle" fill="#222" stroke="#222" stroke-width="0.12" transform="translate(277,654.6) rotate(-90)" textLength="81.7" lengthAdjust="spacingAndGlyphs">Lung W/D weight ratio</text>
<line x1="299.5" y1="707.4" x2="453" y2="707.4" stroke="#1a1a1a" stroke-width="1.1"/>
<line x1="318.75" y1="707.4" x2="318.75" y2="710.6" stroke="#1a1a1a" stroke-width="1.0"/>
<text x="318.75" y="721.6" font-size="8.6" text-anchor="middle" fill="#222" stroke="#222" stroke-width="0.22" textLength="14.1" lengthAdjust="spacingAndGlyphs">LPS</text>
<text x="318.75" y="732.1" font-size="8.6" text-anchor="middle" fill="#222" stroke="#222" stroke-width="0.22" textLength="20.3" lengthAdjust="spacingAndGlyphs">+GZ1</text>
<line x1="357" y1="707.4" x2="357" y2="710.6" stroke="#1a1a1a" stroke-width="1.0"/>
<text x="357" y="721.6" font-size="8.6" text-anchor="middle" fill="#222" stroke="#222" stroke-width="0.22" textLength="14.1" lengthAdjust="spacingAndGlyphs">LPS</text>
<text x="357" y="732.1" font-size="8.6" text-anchor="middle" fill="#222" stroke="#222" stroke-width="0.22" textLength="20.3" lengthAdjust="spacingAndGlyphs">+GZ1</text>
<text x="357" y="742.6" font-size="8.6" text-anchor="middle" fill="#222" stroke="#222" stroke-width="0.22" textLength="33" lengthAdjust="spacingAndGlyphs">+PMX53</text>
<line x1="395" y1="707.4" x2="395" y2="710.6" stroke="#1a1a1a" stroke-width="1.0"/>
<text x="395" y="721.6" font-size="8.6" text-anchor="middle" fill="#222" stroke="#222" stroke-width="0.22" textLength="14.1" lengthAdjust="spacingAndGlyphs">LPS</text>
<text x="395" y="732.1" font-size="8.6" text-anchor="middle" fill="#222" stroke="#222" stroke-width="0.22" textLength="20.3" lengthAdjust="spacingAndGlyphs">+GZ1</text>
<text x="395" y="742.6" font-size="8.6" text-anchor="middle" fill="#222" stroke="#222" stroke-width="0.22" textLength="18.9" lengthAdjust="spacingAndGlyphs">+P32</text>
<line x1="433.25" y1="707.4" x2="433.25" y2="710.6" stroke="#1a1a1a" stroke-width="1.0"/>
<text x="433.25" y="721.6" font-size="8.6" text-anchor="middle" fill="#222" stroke="#222" stroke-width="0.22" textLength="14.1" lengthAdjust="spacingAndGlyphs">LPS</text>
<text x="433.25" y="732.1" font-size="8.6" text-anchor="middle" fill="#222" stroke="#222" stroke-width="0.22" textLength="33.7" lengthAdjust="spacingAndGlyphs">+isotype</text>
<line x1="315.5" y1="593.5" x2="443.75" y2="593.5" stroke="#333" stroke-width="1.2"/>
<text x="380.4" y="589.2" font-size="8.5" text-anchor="middle" fill="#222" stroke="#222" stroke-width="0.22" font-style="italic">WT</text>
<line x1="315.5" y1="604.5" x2="391.75" y2="604.5" stroke="#2a2a2a" stroke-width="1.0"/>
<text x="351.75" y="603.90" font-size="9.8" text-anchor="middle" fill="#111" stroke="#111" stroke-width="0.25">*</text>
<text x="355.75" y="603.90" font-size="9.8" text-anchor="middle" fill="#111" stroke="#111" stroke-width="0.25">*</text>
<line x1="315.5" y1="618.5" x2="356.25" y2="618.5" stroke="#2a2a2a" stroke-width="1.0"/>
<text x="335.5" y="615.2" font-size="8.8" text-anchor="middle" fill="#222" stroke="#222" stroke-width="0.22" >ns</text>
<line x1="395" y1="633.5" x2="435.75" y2="633.5" stroke="#2a2a2a" stroke-width="1.0"/>
<text x="415.00" y="633.15" font-size="9.8" text-anchor="middle" fill="#111" stroke="#111" stroke-width="0.25">*</text>
<line x1="306.3" y1="650.4" x2="330.7" y2="650.4" stroke="#5b2069" stroke-width="1.15"/>
<line x1="318.5" y1="641.5" x2="318.5" y2="659.2" stroke="#5b2069" stroke-width="1.15"/>
<line x1="312.3" y1="641.5" x2="324.7" y2="641.5" stroke="#5b2069" stroke-width="1.15"/>
<line x1="312.3" y1="659.2" x2="324.7" y2="659.2" stroke="#5b2069" stroke-width="1.15"/>
<rect x="310.70" y="637.20" width="4.0" height="4.0" fill="#5b2069"/>
<rect x="316.50" y="639.50" width="4.0" height="4.0" fill="#5b2069"/>
<rect x="322.60" y="638.40" width="4.0" height="4.0" fill="#5b2069"/>
<rect x="306.50" y="648.40" width="4.0" height="4.0" fill="#5b2069"/>
<rect x="311.80" y="649.50" width="4.0" height="4.0" fill="#5b2069"/>
<rect x="316.80" y="652.60" width="4.0" height="4.0" fill="#5b2069"/>
<rect x="321.50" y="649.50" width="4.0" height="4.0" fill="#5b2069"/>
<rect x="326.80" y="647.20" width="4.0" height="4.0" fill="#5b2069"/>
<rect x="319.90" y="659.50" width="4.0" height="4.0" fill="#5b2069"/>
<rect x="313.80" y="663.80" width="4.0" height="4.0" fill="#5b2069"/>
<line x1="344.0" y1="641.1" x2="369.4" y2="641.1" stroke="#32a034" stroke-width="1.15"/>
<line x1="356.7" y1="627.8" x2="356.7" y2="653.8" stroke="#32a034" stroke-width="1.15"/>
<line x1="350.7" y1="627.8" x2="362.7" y2="627.8" stroke="#32a034" stroke-width="1.15"/>
<line x1="350.7" y1="653.8" x2="362.7" y2="653.8" stroke="#32a034" stroke-width="1.15"/>
<path d="M353.70 623.10L356.00 627.10L351.40 627.10Z" fill="#32a034"/>
<path d="M360.20 627.30L362.50 631.30L357.90 631.30Z" fill="#32a034"/>
<path d="M350.80 647.70L353.10 651.70L348.50 651.70Z" fill="#32a034"/>
<path d="M356.90 650.00L359.20 654.00L354.60 654.00Z" fill="#32a034"/>
<path d="M363.10 649.30L365.40 653.30L360.80 653.30Z" fill="#32a034"/>
<line x1="382.5" y1="672.5" x2="407.5" y2="672.5" stroke="#2ba3db" stroke-width="1.15"/>
<line x1="395" y1="655.75" x2="395" y2="689.25" stroke="#2ba3db" stroke-width="1.15"/>
<line x1="388.8" y1="655.75" x2="401.2" y2="655.75" stroke="#2ba3db" stroke-width="1.15"/>
<line x1="388.8" y1="689.25" x2="401.2" y2="689.25" stroke="#2ba3db" stroke-width="1.15"/>
<path d="M395.00 646.20L397.30 642.20L392.70 642.20Z" fill="#2ba3db"/>
<path d="M388.75 679.20L391.05 675.20L386.45 675.20Z" fill="#2ba3db"/>
<path d="M395.00 679.20L397.30 675.20L392.70 675.20Z" fill="#2ba3db"/>
<path d="M401.25 676.70L403.55 672.70L398.95 672.70Z" fill="#2ba3db"/>
<path d="M395.00 690.95L397.30 686.95L392.70 686.95Z" fill="#2ba3db"/>
<line x1="421.25" y1="694.5" x2="445.25" y2="694.5" stroke="#32a034" stroke-width="1.15"/>
<line x1="433.25" y1="693.8" x2="433.25" y2="695.2" stroke="#32a034" stroke-width="1.15"/>
<line x1="429.25" y1="693.8" x2="437.25" y2="693.8" stroke="#32a034" stroke-width="1.15"/>
<line x1="429.25" y1="695.2" x2="437.25" y2="695.2" stroke="#32a034" stroke-width="1.15"/>
<rect x="421.50" y="691.50" width="4.0" height="4.0" fill="#32a034"/>
<rect x="426.50" y="693.00" width="4.0" height="4.0" fill="#32a034"/>
<rect x="431.20" y="693.30" width="4.0" height="4.0" fill="#32a034"/>
<rect x="435.90" y="693.00" width="4.0" height="4.0" fill="#32a034"/>
<rect x="440.70" y="692.40" width="4.0" height="4.0" fill="#32a034"/>
</svg>
</body></html>
